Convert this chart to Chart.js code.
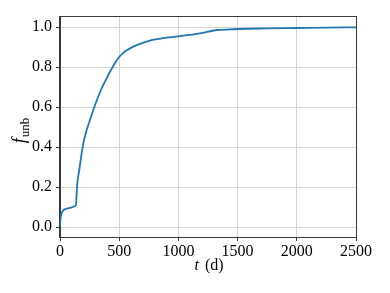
<!DOCTYPE html>
<html>
<head>
<meta charset="utf-8">
<script src="https://cdn.jsdelivr.net/npm/chart.js@4.4.1/dist/chart.umd.min.js"></script>
<style>
  html, body { margin: 0; padding: 0; background: #fff; }
  #wrap { position: relative; width: 390px; height: 293px; }
</style>
</head>
<body>
<div id="wrap"><canvas id="fracChart" width="390" height="293"></canvas></div>
<script>
const times = [0, 3, 8, 15, 28, 50, 75, 99, 120, 135, 140, 146, 163, 183, 197, 217, 253, 296, 346, 408, 440, 470, 500, 530, 560, 619, 700, 760, 870, 1000, 1182, 1323, 1436, 1500, 1750, 2000, 2250, 2500];
const fUnb = [0, 0.03, 0.055, 0.07, 0.083, 0.09, 0.094, 0.098, 0.103, 0.11, 0.16, 0.218, 0.285, 0.368, 0.418, 0.468, 0.535, 0.61, 0.685, 0.76, 0.795, 0.825, 0.85, 0.868, 0.882, 0.902, 0.921, 0.932, 0.944, 0.953, 0.968, 0.985, 0.988, 0.99, 0.993, 0.995, 0.997, 0.998];
const xTicks = [0, 500, 1000, 1500, 2000, 2500];
const yTicks = [0, 0.2, 0.4, 0.6, 0.8, 1.0];

const serif = '"Liberation Serif", "DejaVu Serif", serif';
const gridColor = '#d4d4d4';

const frameAndTitles = {
  id: 'frameAndTitles',
  afterDraw(chart) {
    const { ctx, chartArea: a } = chart;
    ctx.save();
    ctx.strokeStyle = '#3a3a3a';
    ctx.lineWidth = 1;
    ctx.strokeRect(a.left - 0.5, a.top - 0.5, a.right - a.left + 1, a.bottom - a.top + 1);

    // x title: italic t, then (d)
    ctx.fillStyle = '#000';
    ctx.textBaseline = 'alphabetic';
    ctx.textAlign = 'left';
    const cx = (a.left + a.right) / 2;
    ctx.font = 'italic 16px ' + serif;
    const tW = ctx.measureText('t').width;
    ctx.font = '16px ' + serif;
    const dW = ctx.measureText(' (d)').width;
    let x0 = cx - (tW + dW) / 2;
    ctx.font = 'italic 16px ' + serif;
    ctx.fillText('t', x0, 270);
    ctx.font = '16px ' + serif;
    ctx.fillText(' (d)', x0 + tW + 2, 270);

    // y title: italic f with subscript unb
    ctx.translate(25, (a.top + a.bottom) / 2 + 4);
    ctx.rotate(-Math.PI / 2);
    ctx.font = 'italic 18px ' + serif;
    const fW = ctx.measureText('f').width;
    ctx.font = '13px ' + serif;
    const sW = ctx.measureText('unb').width;
    x0 = -(fW + sW) / 2;
    ctx.font = 'italic 18px ' + serif;
    ctx.fillText('f', x0, 0);
    ctx.font = '13px ' + serif;
    ctx.fillText('unb', x0 + fW + 1, 4);
    ctx.restore();
  },
};

new Chart(document.getElementById('fracChart'), {
  type: 'line',
  data: {
    datasets: [
      {
        data: times.map((t, i) => ({ x: t, y: fUnb[i] })),
        borderColor: '#1f77b4',
        borderWidth: 1.8,
        pointRadius: 0,
        fill: false,
        cubicInterpolationMode: 'monotone',
      },
    ],
  },
  options: {
    responsive: false,
    animation: false,
    layout: { padding: { top: 17, right: 34, left: 0, bottom: 0 } },
    scales: {
      x: {
        type: 'linear',
        min: 0,
        max: 2500,
        afterFit: (scale) => { scale.height = 56; },
        afterBuildTicks: (scale) => { scale.ticks = xTicks.map((v) => ({ value: v })); },
        ticks: {
          color: '#000',
          font: { family: serif, size: 16 },
          padding: 1,
          maxRotation: 0,
          callback: (value) => `${value}`,
        },
        grid: { color: gridColor, tickLength: 4, tickColor: '#3a3a3a' },
        border: { color: '#3a3a3a' },
      },
      y: {
        min: -0.05,
        max: 1.05,
        afterFit: (scale) => { scale.width = 60; },
        afterBuildTicks: (scale) => { scale.ticks = yTicks.map((v) => ({ value: v })); },
        ticks: {
          color: '#000',
          font: { family: serif, size: 16 },
          padding: 4,
          callback: (value) => value.toFixed(1),
        },
        grid: { color: gridColor, tickLength: 4, tickColor: '#3a3a3a' },
        border: { color: '#3a3a3a' },
      },
    },
    plugins: {
      legend: { display: false },
      tooltip: { enabled: false },
    },
  },
  plugins: [frameAndTitles],
});
</script>
</body>
</html>
